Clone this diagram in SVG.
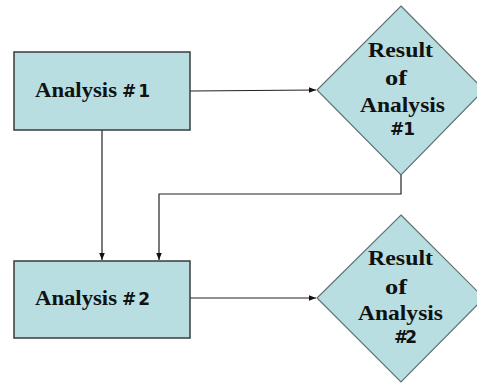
<svg xmlns="http://www.w3.org/2000/svg" width="477" height="384" viewBox="0 0 477 384">
<style>
.box{fill:#b8dee2;stroke:#3a3a3a;stroke-width:1.5}
.dia{fill:#b8dee2;stroke:#5f7272;stroke-width:1.2}
.t{font-family:"Liberation Serif",serif;font-weight:bold;font-size:22px;fill:#111}
.n{font-family:"DejaVu Sans","Liberation Sans",sans-serif;font-weight:bold;font-size:17px;fill:#111}
.c{fill:none;stroke:#222;stroke-width:1.2}
</style>
<defs>
<marker id="a" viewBox="0 0 10 10" refX="10" refY="5" markerWidth="7" markerHeight="7" orient="auto" markerUnits="userSpaceOnUse">
<path d="M0,1 L10,5 L0,9 Z" fill="#111"/>
</marker>
</defs>
<rect width="477" height="384" fill="#fff"/>
<g id="connectors">
<line class="c" x1="190" y1="91" x2="316" y2="90" marker-end="url(#a)"/>
<line class="c" x1="102" y1="130" x2="102" y2="260" marker-end="url(#a)"/>
<polyline class="c" points="401,175 401,194 159,194 159,260" marker-end="url(#a)"/>
<line class="c" x1="190" y1="298" x2="316" y2="298" marker-end="url(#a)"/>
</g>
<g id="analysis1">
<rect class="box" x="14" y="52" width="176" height="78"/>
<text class="t" x="35" y="97" textLength="82" lengthAdjust="spacingAndGlyphs">Analysis</text>
<text class="n" x="122" y="97" textLength="28" lengthAdjust="spacing">#1</text>
</g>
<g id="analysis2">
<rect class="box" x="14" y="261" width="176" height="77"/>
<text class="t" x="35" y="305" textLength="82" lengthAdjust="spacingAndGlyphs">Analysis</text>
<text class="n" x="122" y="305" textLength="28" lengthAdjust="spacing">#2</text>
</g>
<g id="result1">
<polygon class="dia" points="401,6 484,90 401,175 317,90"/>
<text class="t" x="368" y="57" textLength="65" lengthAdjust="spacingAndGlyphs">Result</text>
<text class="t" x="385" y="85" textLength="22" lengthAdjust="spacingAndGlyphs">of</text>
<text class="t" x="360" y="112" textLength="85" lengthAdjust="spacingAndGlyphs">Analysis</text>
<text class="n" x="390" y="135" textLength="25" lengthAdjust="spacing">#1</text>
</g>
<g id="result2">
<polygon class="dia" points="401,215 484,298 401,382 317,298"/>
<text class="t" x="368" y="265" textLength="65" lengthAdjust="spacingAndGlyphs">Result</text>
<text class="t" x="385" y="294" textLength="22" lengthAdjust="spacingAndGlyphs">of</text>
<text class="t" x="358" y="320" textLength="85" lengthAdjust="spacingAndGlyphs">Analysis</text>
<text class="n" x="394" y="343" textLength="23" lengthAdjust="spacing">#2</text>
</g>
</svg>
